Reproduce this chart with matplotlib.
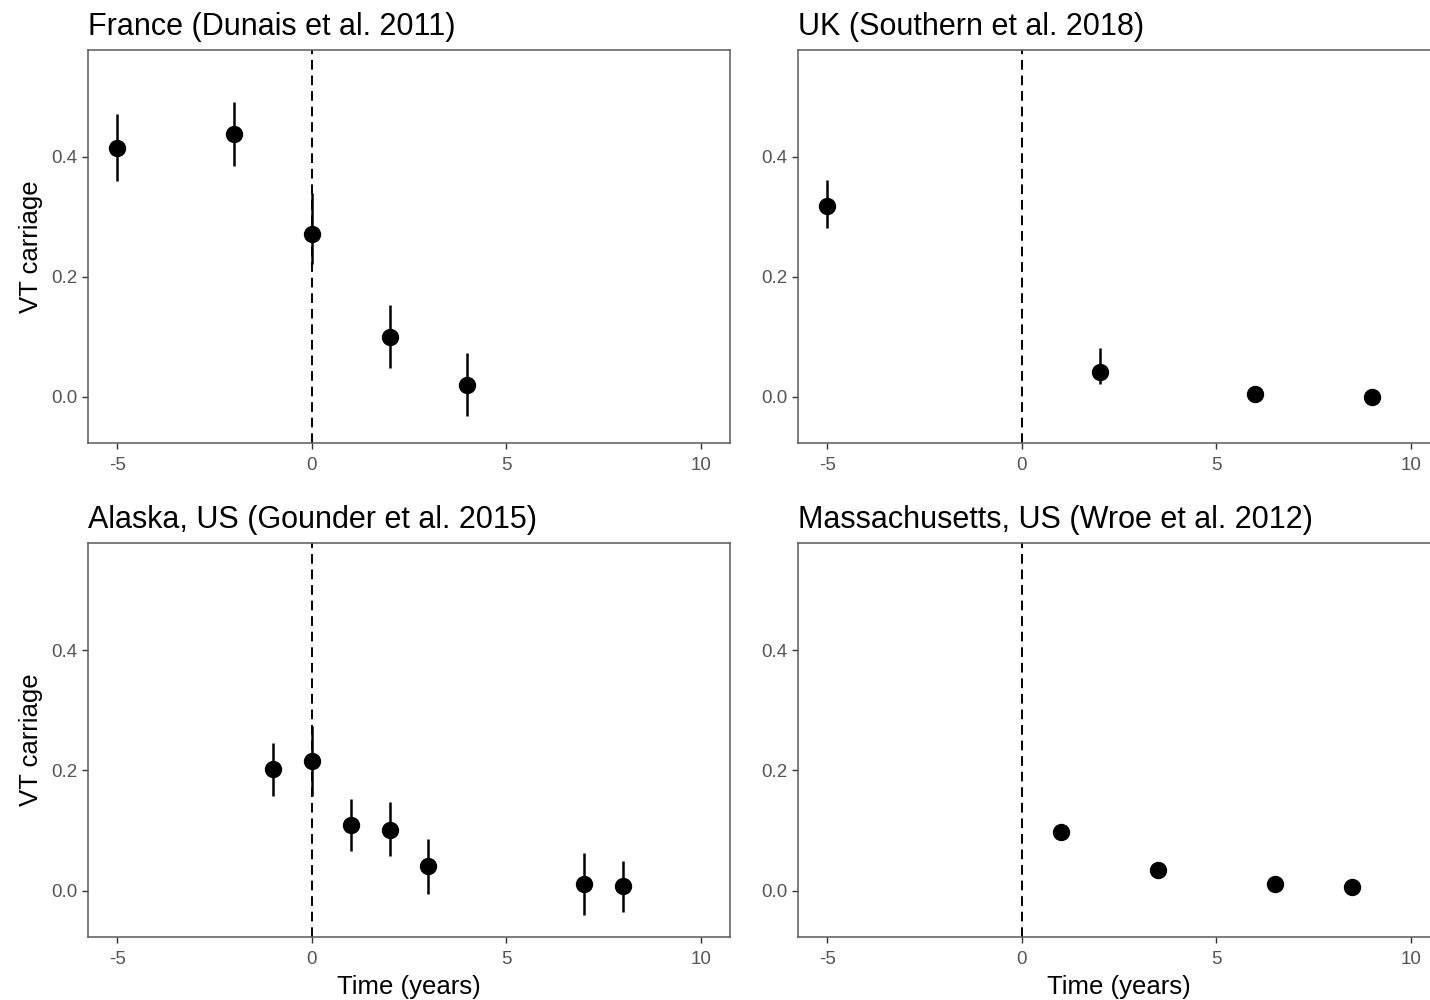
import matplotlib.pyplot as plt

plt.rcParams['font.family'] = ['Liberation Sans', 'DejaVu Sans']
plt.rcParams['axes.unicode_minus'] = False

# France (Dunais et al. 2011)
fr_time = [-5, -2, 0, 2, 4]
fr_vt = [0.415, 0.438, 0.272, 0.100, 0.020]
fr_lo = [0.359, 0.384, 0.221, 0.048, -0.032]
fr_hi = [0.472, 0.492, 0.340, 0.153, 0.073]

# UK (Southern et al. 2018)
uk_time = [-5, 2, 6, 9]
uk_vt = [0.318, 0.042, 0.004, 0.000]
uk_lo = [0.281, 0.021, 0.000, 0.000]
uk_hi = [0.361, 0.081, 0.018, 0.002]

# Alaska, US (Gounder et al. 2015)
ak_time = [-1, 0, 1, 2, 3, 7, 8]
ak_vt = [0.202, 0.216, 0.109, 0.101, 0.041, 0.011, 0.007]
ak_lo = [0.158, 0.158, 0.066, 0.057, -0.005, -0.040, -0.036]
ak_hi = [0.246, 0.274, 0.153, 0.147, 0.086, 0.062, 0.050]

# Massachusetts, US (Wroe et al. 2012) - no intervals
ma_time = [1, 3.5, 6.5, 8.5]
ma_vt = [0.097, 0.034, 0.011, 0.006]

titles = ['France (Dunais et al. 2011)', 'UK (Southern et al. 2018)',
          'Alaska, US (Gounder et al. 2015)', 'Massachusetts, US (Wroe et al. 2012)']

fig = plt.figure(figsize=(14.3, 10), dpi=100)
W, H = 1430, 1000
boxes = [(88, 50, 642, 393), (798, 50, 642, 393),
         (88, 543, 642, 394), (798, 543, 642, 394)]
axes = [fig.add_axes([l / W, 1 - (t + h) / H, w / W, h / H]) for l, t, w, h in boxes]

series = [(fr_time, fr_vt, fr_lo, fr_hi), (uk_time, uk_vt, uk_lo, uk_hi),
          (ak_time, ak_vt, ak_lo, ak_hi), (ma_time, ma_vt, None, None)]

for i, (ax, (t, v, lo, hi)) in enumerate(zip(axes, series)):
    ax.axvline(0, color='black', lw=1.4, dashes=(5, 3), zorder=1)
    if lo is not None:
        ax.vlines(t, lo, hi, color='black', lw=1.8, zorder=2)
    ax.plot(t, v, 'o', color='black', ms=11.5, zorder=3)
    ax.set_xlim(-5.75, 10.75)
    ax.set_ylim(-0.077, 0.578)
    ax.set_xticks([-5, 0, 5, 10])
    ax.set_yticks([0.0, 0.2, 0.4])
    ax.set_yticklabels(['0.0', '0.2', '0.4'])
    for s in ax.spines.values():
        s.set_color('#5a5a5a')
        s.set_linewidth(1.1)
    ax.tick_params(colors='#333333', labelcolor='#555555', labelsize=13.5,
                   length=4, width=1.0)
    ax.tick_params(axis='x', pad=6)
    ax.set_title(titles[i], loc='left', fontsize=22, pad=11)
    if i % 2 == 0:
        ax.set_ylabel('VT carriage', fontsize=18.5, labelpad=6)
    if i >= 2:
        ax.set_xlabel('Time (years)', fontsize=18.5, labelpad=5)

fig.savefig('out.png', dpi=100)
